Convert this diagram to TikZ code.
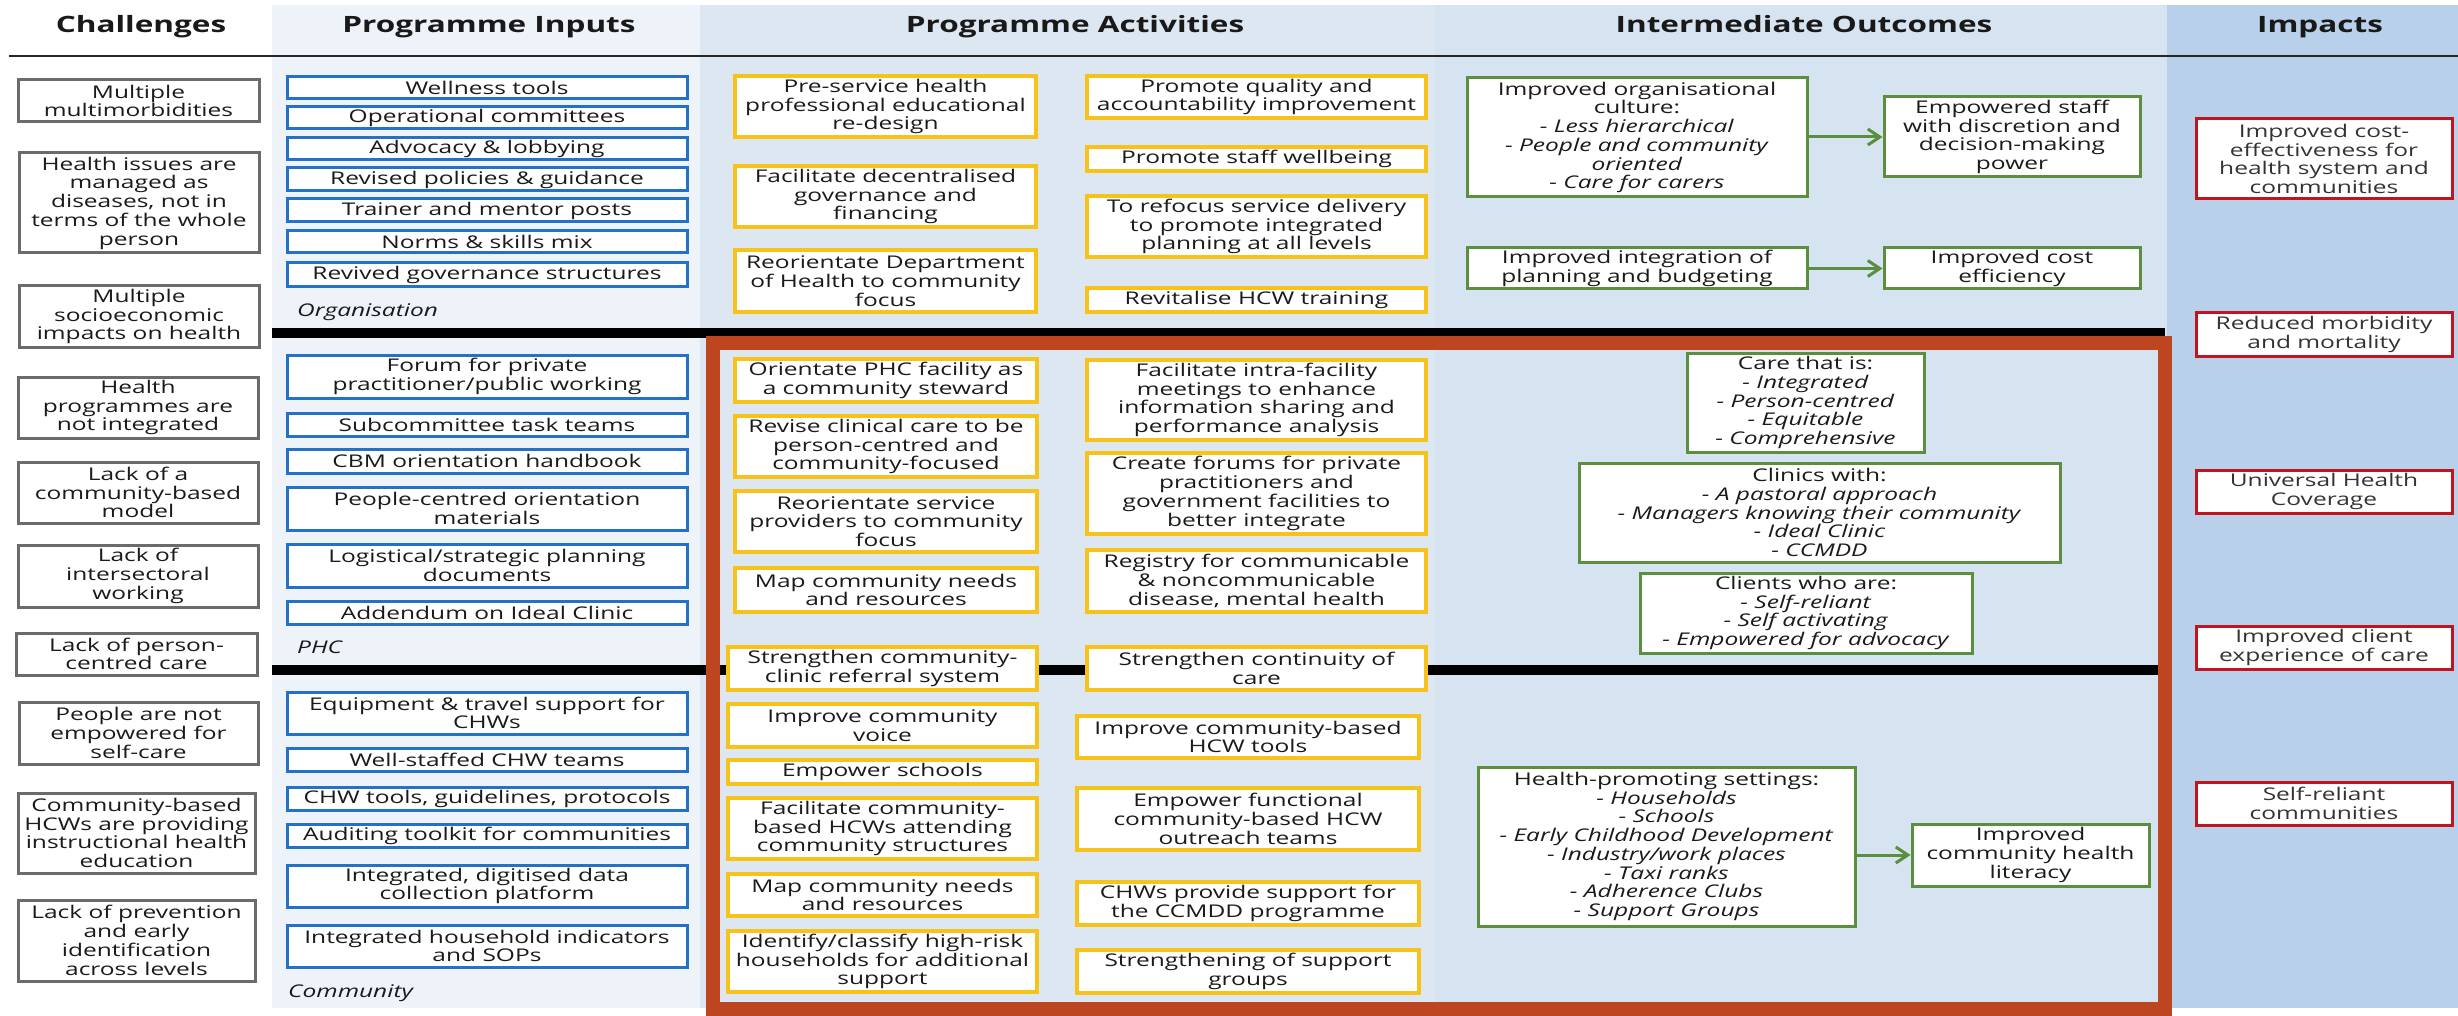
\documentclass[tikz,border=0pt]{standalone}
\usepackage{fontspec}
\setmainfont{Open Sans}[FakeStretch=1.40]
\usetikzlibrary{arrows.meta}
\definecolor{txt}{HTML}{1A1A1A}
\definecolor{bgin}{HTML}{EEF3F9}
\definecolor{bgact}{HTML}{DCE7F2}
\definecolor{bgout}{HTML}{D6E4F2}
\definecolor{bgimp}{HTML}{B8D0E9}
\definecolor{chalc}{HTML}{6B6B6B}
\definecolor{inpc}{HTML}{2472C8}
\definecolor{actc}{HTML}{F7C21A}
\definecolor{outcc}{HTML}{5B8E3E}
\definecolor{impc}{HTML}{C0141E}
\definecolor{rust}{HTML}{BD4520}
\newcommand\bodyfont{\fontsize{17.5pt}{18.75pt}\selectfont}
\newcommand\hdrfont{\fontsize{22.5pt}{26pt}\selectfont\bfseries}
\newcommand\bx[7]{\node[#1, minimum width={#5-#3}, minimum height={#6-#4}] (#2) at ({(#3+#5)/2},{(#4+#6)/2}) {#7};}
\begin{document}
\begin{tikzpicture}[x=1pt,y=-1pt,
  base/.style={draw, fill=white, inner sep=0pt, align=center, text=txt, font=\bodyfont},
  chal/.style={base, draw=chalc, line width=3pt},
  inp/.style={base, draw=inpc, line width=3pt},
  act/.style={base, draw=actc, line width=3.5pt},
  outb/.style={base, draw=outcc, line width=3pt},
  imp/.style={base, draw=impc, line width=3pt, text=black!80},
  hdr/.style={font=\hdrfont, text=black!90, inner sep=0pt, anchor=base},
  lbl/.style={font=\bodyfont\itshape, text=txt, inner sep=0pt, anchor=base west},
  arr/.style={draw=outcc, line width=3pt, -{Straight Barb[length=12pt,width=16pt]}}]
\useasboundingbox (0,0) rectangle (2458,1016);
% column backgrounds
\fill[white] (0,0) rectangle (2458,1016);
\fill[bgin] (272,5) rectangle (700,1008);
\fill[bgact] (700,5) rectangle (1435,1008);
\fill[bgout] (1435,5) rectangle (2167,1008);
\fill[bgimp] (2167,5) rectangle (2458,1008);
% header rule
\draw[line width=2.5pt, black!85] (9,56) -- (2458,56);
% thick section bars
\fill[black] (272,328) rectangle (2165,338);
\fill[black] (272,665) rectangle (2165,675);
% highlight frame
\draw[rust, line width=14pt] (713,343) rectangle (2165,1009);
% headers
\node[hdr] (h1) at (141,33) {Challenges};
\node[hdr] (h2) at (489,33) {Programme Inputs};
\node[hdr] (h3) at (1075,33) {Programme Activities};
\node[hdr] (h4) at (1804,33) {Intermediate Outcomes};
\node[hdr] (h5) at (2320,33) {Impacts};
% challenges
\bx{chal}{c1}{18}{80}{259}{122}{Multiple\\multimorbidities}
\bx{chal}{c2}{19}{153}{259}{253}{Health issues are\\managed as\\diseases, not in\\terms of the whole\\person}
\bx{chal}{c3}{19}{286}{259}{347}{Multiple\\socioeconomic\\impacts on health}
\bx{chal}{c4}{18}{377}{258}{438}{Health\\programmes are\\not integrated}
\bx{chal}{c5}{18}{462}{258}{523}{Lack of a\\community-based\\model}
\bx{chal}{c6}{18}{545}{258}{607}{Lack of\\intersectoral\\working}
\bx{chal}{c7}{16}{633}{257}{675}{Lack of person-\\centred care}
\bx{chal}{c8}{19}{702}{258}{764}{People are not\\empowered for\\self-care}
\bx{chal}{c9}{18}{793}{255}{873}{Community-based\\HCWs are providing\\instructional health\\education}
\bx{chal}{c10}{18}{900}{255}{981}{Lack of prevention\\and early\\identification\\across levels}
% inputs
\bx{inp}{i1}{287}{77}{687}{99}{Wellness tools}
\bx{inp}{i2}{287}{107}{687}{129}{Operational committees}
\bx{inp}{i3}{287}{138}{687}{160}{Advocacy \& lobbying}
\bx{inp}{i4}{287}{168}{687}{191}{Revised policies \& guidance}
\bx{inp}{i5}{287}{199}{687}{222}{Trainer and mentor posts}
\bx{inp}{i6}{287}{231}{687}{253}{Norms \& skills mix}
\bx{inp}{i7}{287}{263}{687}{287}{Revived governance structures}
\bx{inp}{i8}{287}{355}{687}{398}{Forum for private\\practitioner/public working}
\bx{inp}{i9}{287}{413}{687}{436}{Subcommittee task teams}
\bx{inp}{i10}{287}{449}{687}{473}{CBM orientation handbook}
\bx{inp}{i11}{287}{487}{687}{530}{People-centred orientation\\materials}
\bx{inp}{i12}{287}{544}{687}{587}{Logistical/strategic planning\\documents}
\bx{inp}{i13}{287}{601}{687}{624}{Addendum on Ideal Clinic}
\bx{inp}{i14}{287}{692}{687}{734}{Equipment \& travel support for\\CHWs}
\bx{inp}{i15}{287}{748}{687}{771}{Well-staffed CHW teams}
\bx{inp}{i16}{287}{787}{687}{810}{CHW tools, guidelines, protocols}
\bx{inp}{i17}{287}{824}{687}{847}{Auditing toolkit for communities}
\bx{inp}{i18}{287}{865}{687}{907}{Integrated, digitised data\\collection platform}
\bx{inp}{i19}{287}{925}{687}{967}{Integrated household indicators\\and SOPs}
\node[lbl] (l1) at (297,317) {Organisation};
\node[lbl] (l2) at (297,653) {PHC};
\node[lbl] (l3) at (288,997) {Community};
% activities
\bx{act}{a1}{735}{76}{1036}{137}{Pre-service health\\professional educational\\re-design}
\bx{act}{a2}{735}{166}{1036}{227}{Facilitate decentralised\\governance and\\financing}
\bx{act}{a3}{735}{250}{1036}{312}{Reorientate Department\\of Health to community\\focus}
\bx{act}{a4}{1087}{76}{1426}{118}{Promote quality and\\accountability improvement}
\bx{act}{a5}{1087}{147}{1426}{171}{Promote staff wellbeing}
\bx{act}{a6}{1087}{196}{1426}{257}{To refocus service delivery\\to promote integrated\\planning at all levels}
\bx{act}{a7}{1087}{288}{1426}{312}{Revitalise HCW training}
\bx{act}{a8}{735}{359}{1037}{402}{Orientate PHC facility as\\a community steward}
\bx{act}{a9}{735}{416}{1037}{477}{Revise clinical care to be\\person-centred and\\community-focused}
\bx{act}{a10}{735}{491}{1037}{552}{Reorientate service\\providers to community\\focus}
\bx{act}{a11}{735}{568}{1037}{612}{Map community needs\\and resources}
\bx{act}{a12}{1087}{360}{1426}{440}{Facilitate intra-facility\\meetings to enhance\\information sharing and\\performance analysis}
\bx{act}{a13}{1087}{453}{1426}{534}{Create forums for private\\practitioners and\\government facilities to\\better integrate}
\bx{act}{a14}{1087}{550}{1426}{612}{Registry for communicable\\\& noncommunicable\\disease, mental health}
\bx{act}{a15}{728}{647}{1037}{690}{Strengthen community-\\clinic referral system}
\bx{act}{a16}{1087}{647}{1426}{690}{Strengthen continuity of\\care}
\bx{act}{a17}{728}{704}{1037}{747}{Improve community\\voice}
\bx{act}{a18}{728}{760}{1037}{784}{Empower schools}
\bx{act}{a19}{728}{798}{1037}{859}{Facilitate community-\\based HCWs attending\\community structures}
\bx{act}{a20}{728}{874}{1037}{916}{Map community needs\\and resources}
\bx{act}{a21}{728}{931}{1037}{992}{Identify/classify high-risk\\households for additional\\support}
\bx{act}{a22}{1077}{716}{1419}{758}{Improve community-based\\HCW tools}
\bx{act}{a23}{1077}{788}{1419}{850}{Empower functional\\community-based HCW\\outreach teams}
\bx{act}{a24}{1077}{882}{1419}{925}{CHWs provide support for\\the CCMDD programme}
\bx{act}{a25}{1077}{950}{1419}{993}{Strengthening of support\\groups}
% outcomes
\bx{outb}{o1}{1467}{78}{1807}{197}{Improved organisational\\culture:\\\textit{- Less hierarchical}\\\textit{- People and community}\\\textit{oriented}\\\textit{- Care for carers}}
\bx{outb}{o2}{1884}{97}{2140}{177}{Empowered staff\\with discretion and\\decision-making\\power}
\bx{outb}{o3}{1467}{248}{1807}{289}{Improved integration of\\planning and budgeting}
\bx{outb}{o4}{1884}{248}{2140}{289}{Improved cost\\efficiency}
\bx{outb}{o5}{1687}{353}{1924}{452}{Care that is:\\\textit{- Integrated}\\\textit{- Person-centred}\\\textit{- Equitable}\\\textit{- Comprehensive}}
\bx{outb}{o6}{1579}{463}{2060}{562}{Clinics with:\\\textit{- A pastoral approach}\\\textit{- Managers knowing their community}\\\textit{- Ideal Clinic}\\\textit{- CCMDD}}
\bx{outb}{o7}{1640}{573}{1972}{653}{Clients who are:\\\textit{- Self-reliant}\\\textit{- Self activating}\\\textit{- Empowered for advocacy}}
\bx{outb}{o8}{1478}{767}{1855}{926}{Health-promoting settings:\\\textit{- Households}\\\textit{- Schools}\\\textit{- Early Childhood Development}\\\textit{- Industry/work places}\\\textit{- Taxi ranks}\\\textit{- Adherence Clubs}\\\textit{- Support Groups}}
\bx{outb}{o9}{1912}{824}{2149}{886}{Improved\\community health\\literacy}
\draw[arr] (o1.east |- o2.west) -- (o2.west);
\draw[arr] (o3.east) -- (o4.west);
\draw[arr] (o8.east |- o9.west) -- (o9.west);
% impacts
\bx{imp}{m1}{2196}{119}{2452}{199}{Improved cost-\\effectiveness for\\health system and\\communities}
\bx{imp}{m2}{2196}{313}{2452}{356}{Reduced morbidity\\and mortality}
\bx{imp}{m3}{2196}{470}{2452}{513}{Universal Health\\Coverage}
\bx{imp}{m4}{2196}{626}{2452}{669}{Improved client\\experience of care}
\bx{imp}{m5}{2196}{782}{2452}{825}{Self-reliant\\communities}
\end{tikzpicture}
\end{document}
